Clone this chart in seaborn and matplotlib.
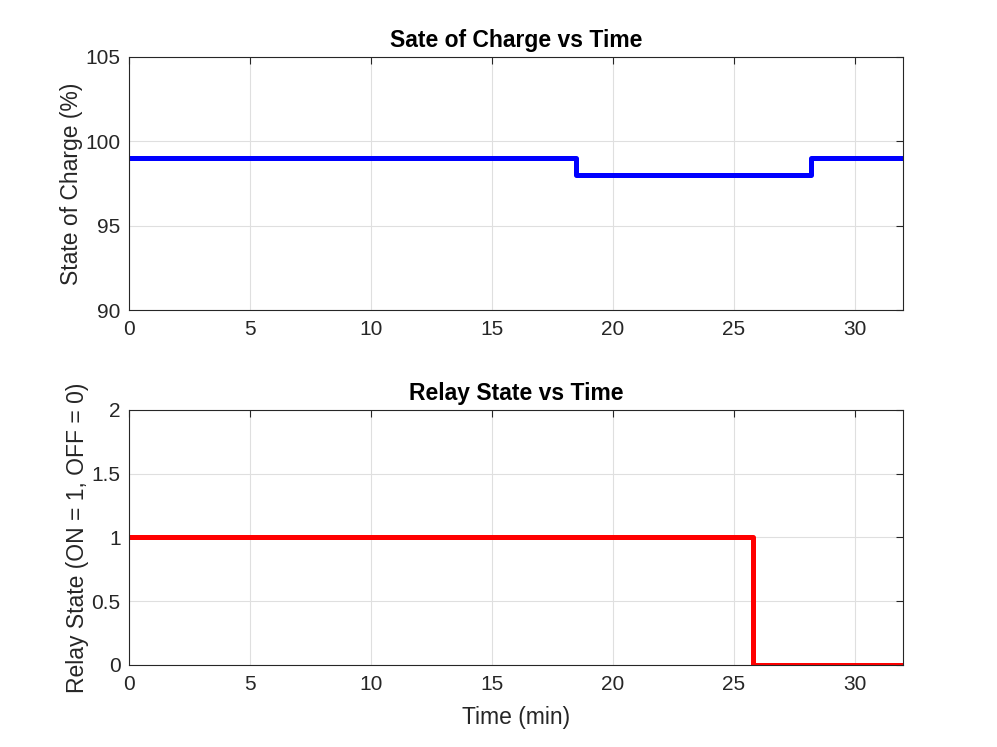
import matplotlib
matplotlib.use("Agg")
import matplotlib.pyplot as plt
import seaborn as sns
import pandas as pd

# data
soc_time = [0, 18.5, 28.2, 32]
soc_vals = [99, 98, 99, 99]
relay_time = [0, 25.8, 32]
relay_vals = [1, 0, 0]

sns.set_style("white")
plt.rcParams['font.family'] = ['Liberation Sans', 'DejaVu Sans']

fig = plt.figure(figsize=(9.97, 7.47), dpi=100)
ax1 = fig.add_axes([0.1294, 0.585, 0.7763, 0.3387])
ax2 = fig.add_axes([0.1294, 0.1098, 0.7763, 0.3414])

df_soc = pd.DataFrame({"t": soc_time, "soc": soc_vals})
df_relay = pd.DataFrame({"t": relay_time, "relay": relay_vals})

sns.lineplot(data=df_soc, x="t", y="soc", ax=ax1, color="#0000ff",
             linewidth=3.6, drawstyle="steps-post", sort=False)
sns.lineplot(data=df_relay, x="t", y="relay", ax=ax2, color="#ff0000",
             linewidth=3.6, drawstyle="steps-post", sort=False)

def matlab_style(ax):
    ax.set_xlim(0, 32)
    ax.grid(True, color="#dfdfdf", linewidth=0.8)
    ax.set_axisbelow(True)
    for s in ax.spines.values():
        s.set_color("#262626")
        s.set_linewidth(0.8)
        s.set_visible(True)
    ax.tick_params(direction="in", length=5, width=0.8, colors="#262626",
                   labelsize=15, top=True, right=True, labeltop=False, labelright=False)
    ax.tick_params(axis="x", pad=7)
    ax.tick_params(axis="y", pad=6)
    ax.set_xticks([0, 5, 10, 15, 20, 25, 30])

matlab_style(ax1)
ax1.set_ylim(90, 105)
ax1.set_yticks([90, 95, 100, 105])
ax1.set_title("Sate of Charge vs Time", fontsize=16.5, fontweight="bold", pad=7, color="black")
ax1.set_xlabel("")
ax1.set_ylabel("State of Charge (%)", fontsize=16.5, color="#262626", labelpad=2)

matlab_style(ax2)
ax2.set_ylim(0, 2)
ax2.set_yticks([0, 0.5, 1, 1.5, 2])
ax2.set_yticklabels(["0", "0.5", "1", "1.5", "2"])
ax2.set_title("Relay State vs Time", fontsize=16.5, fontweight="bold", pad=7, color="black")
ax2.set_xlabel("Time (min)", fontsize=16.5, color="#262626", labelpad=9)
ax2.set_ylabel("Relay State (ON = 1, OFF = 0)", fontsize=16.5, color="#262626", labelpad=2)

fig.savefig("out.png", dpi=100)
